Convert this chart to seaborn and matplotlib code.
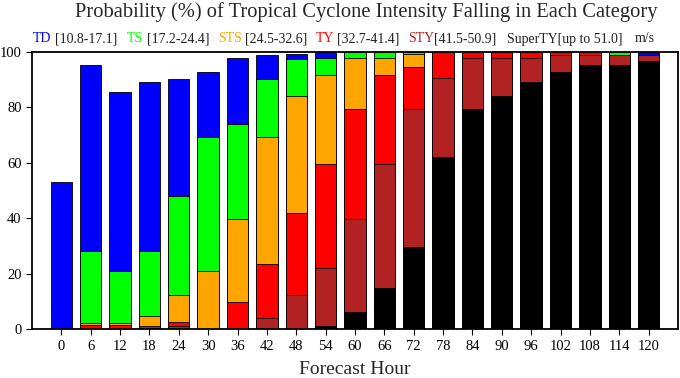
import pandas as pd
import matplotlib
matplotlib.use("Agg")
import matplotlib.pyplot as plt
import seaborn as sns

sns.set_style("ticks")
plt.rcParams['font.family'] = ['Liberation Serif', 'DejaVu Serif']

# forecast hours and probability (%) of each category
hours = [0, 6, 12, 18, 24, 30, 36, 42, 48, 54, 60, 66, 72, 78, 84, 90, 96, 102, 108, 114, 120]
superty = [0, 0, 0, 0, 0, 0, 0, 0, 0, 1.3, 6.3, 15.0, 29.8, 62.0, 79.2, 84.2, 89.2, 92.8, 95.2, 95.2, 96.6]
sty = [0, 0, 0, 0.6, 1.2, 0, 0, 4.0, 12.2, 20.9, 33.3, 44.4, 49.4, 28.4, 18.6, 13.6, 8.6, 6.0, 3.6, 3.6, 2.2]
ty = [0, 1.4, 1.4, 0.6, 1.3, 0, 9.9, 19.5, 29.8, 37.2, 39.6, 32.2, 15.2, 9.6, 2.2, 2.2, 2.2, 1.2, 1.2, 0.2, 0]
sts = [0, 1.0, 1.0, 3.6, 9.7, 21.0, 29.7, 45.7, 42.0, 32.2, 18.6, 6.2, 4.8, 0, 0, 0, 0, 0, 0, 0, 0]
ts = [0, 25.9, 18.6, 23.5, 35.9, 48.2, 34.4, 21.0, 13.5, 6.0, 2.2, 2.2, 0.8, 0, 0, 0, 0, 0, 0, 1.0, 0]
td = [53.0, 66.9, 64.4, 60.7, 42.1, 23.4, 23.6, 8.6, 1.6, 2.2, 0, 0, 0, 0, 0, 0, 0, 0, 0, 0, 1.2]

categories = ['SuperTY', 'STY', 'TY', 'STS', 'TS', 'TD']
colors = ['black', '#b22222', '#ff0000', '#ffa500', '#00ff00', '#0000ff']

df = pd.DataFrame({'Hour': hours, 'SuperTY': superty, 'STY': sty, 'TY': ty,
                   'STS': sts, 'TS': ts, 'TD': td})
# cumulative sums for stacking
cum = df[categories].cumsum(axis=1)
cum['Hour'] = df['Hour'].astype(str)
order = [str(h) for h in hours]

fig = plt.figure(figsize=(6.8, 3.78), dpi=100)
ax = fig.add_axes([0.047, 0.129, 0.95, 0.734])

# draw from the top layer down so lower layers overlay
for cat, col in zip(categories[::-1], colors[::-1]):
    sns.barplot(data=cum, x='Hour', y=cat, order=order, color=col, width=0.73,
                edgecolor='black', linewidth=0.6, saturation=1, ax=ax)

ax.set_xlim(-1, 21)
ax.set_ylim(0, 100)
ax.set_yticks([0, 20, 40, 60, 80, 100])
ax.tick_params(axis='both', labelsize=10.5, length=4, direction='out', colors='black')
ax.set_xlabel('Forecast Hour', fontsize=14, labelpad=6)
ax.set_ylabel('')
for s in ax.spines.values():
    s.set_visible(True)
    s.set_linewidth(1.3)
    s.set_color('black')

fig.text(366 / 680, 0.995, 'Probability (%) of Tropical Cyclone Intensity Falling in Each Category',
         ha='center', va='top', fontsize=14.8)

# colored category labels above the plot
legend_items = [
    (33, 'TD', '#0000ff'), (55, '[10.8-17.1]', '#222222'),
    (127, 'TS', '#00ff00'), (147, '[17.2-24.4]', '#222222'),
    (218, 'STS', '#ffa500'), (245, '[24.5-32.6]', '#222222'),
    (316, 'TY', '#ff0000'), (337, '[32.7-41.4]', '#222222'),
    (408, 'STY', '#b22222'), (434, '[41.5-50.9]', '#222222'),
    (507, 'SuperTY[up to 51.0]', '#222222'), (635, 'm/s', '#222222'),
]
for px, txt, col in legend_items:
    fig.text(px / 680, 1 - 39 / 378, txt, color=col, fontsize=10, ha='left', va='center')

fig.savefig('out.png', dpi=100)
